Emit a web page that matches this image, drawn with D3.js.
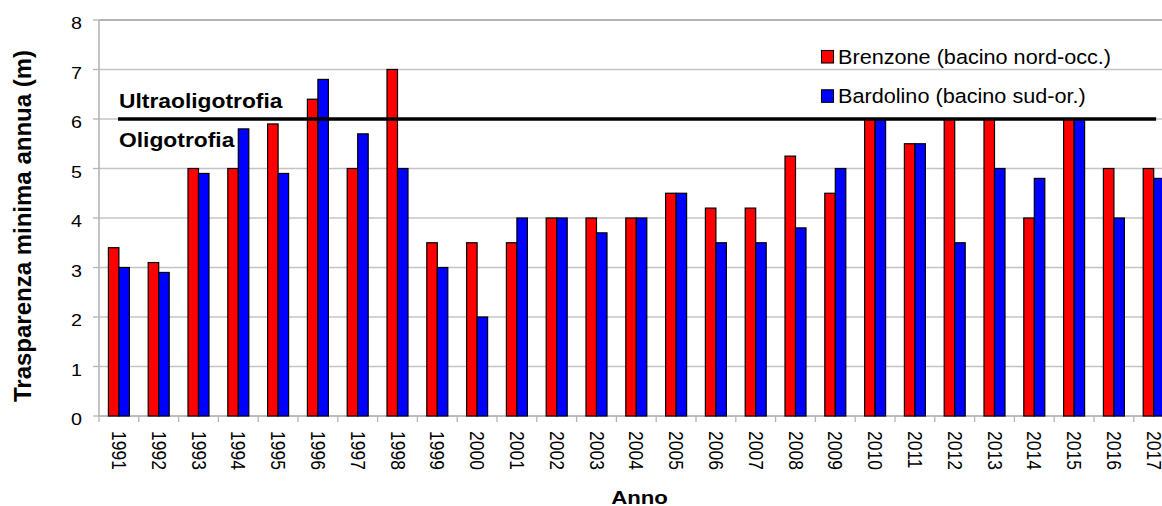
<!DOCTYPE html>
<html>
<head>
<meta charset="utf-8">
<script src="https://cdn.jsdelivr.net/npm/d3@7"></script>
<style>
  body { margin: 0; background: #fff; }
  text { font-family: Arial, "Liberation Sans", sans-serif; fill: #000; }
</style>
</head>
<body>
<svg id="canvas" width="1162" height="506"></svg>
<script>
// data
var years = ['1991','1992','1993','1994','1995','1996','1997','1998','1999','2000','2001','2002','2003','2004',
             '2005','2006','2007','2008','2009','2010','2011','2012','2013','2014','2015','2016','2017'];
var brenzone  = [3.4, 3.1, 5.0, 5.0, 5.9, 6.4, 5.0, 7.0, 3.5, 3.5, 3.5, 4.0, 4.0, 4.0,
                 4.5, 4.2, 4.2, 5.25, 4.5, 6.0, 5.5, 6.0, 6.0, 4.0, 6.0, 5.0, 5.0];
var bardolino = [3.0, 2.9, 4.9, 5.8, 4.9, 6.8, 5.7, 5.0, 3.0, 2.0, 4.0, 4.0, 3.7, 4.0,
                 4.5, 3.5, 3.5, 3.8, 5.0, 6.0, 5.5, 3.5, 5.0, 4.8, 6.0, 4.0, 4.8];
var seriesNames = ['Brenzone (bacino nord-occ.)', 'Bardolino (bacino sud-or.)'];
var seriesColors = ['#ff0000', '#0000ff'];
var yTicks = [0, 1, 2, 3, 4, 5, 6, 7, 8];
var threshold = 6;
var thresholdLabels = ['Ultraoligotrofia', 'Oligotrofia'];

var svg = d3.select('#canvas');

// ---------------------------------------------------------------- //
// Scales

var plotLeft = 99, plotTop = 20, plotBottom = 416;
var x = d3.scaleBand().domain(years).range([plotLeft, plotLeft + 27 * 39.8]);
var xs = d3.scaleBand().domain([0, 1]).range([0, x.bandwidth()]).paddingOuter(0.895);
var y = d3.scaleLinear().domain([0, 8]).range([plotBottom, plotTop]);

var rows = years.map(function(d, i){ return { year: d, vals: [brenzone[i], bardolino[i]] }; });

// horizontal text, slightly stretched like the original
function stretchedText(g, tx, ty, sx, str){
  return g.append('text').attr('transform', 'translate(' + tx + ',' + ty + ') scale(' + sx + ',1)').text(str);
}

// ---------------------------------------------------------------- //
// Grid and axes

svg.append('g').selectAll('line').data(yTicks).join('line')
  .attr('x1', plotLeft).attr('x2', 1162)
  .attr('y1', d => y(d)).attr('y2', d => y(d))
  .attr('stroke', d => d === 8 ? '#9a9a9a' : '#c4c4c4').attr('stroke-width', 1.3);

var yAxis = svg.append('g');
yAxis.append('line').attr('x1', plotLeft).attr('x2', plotLeft).attr('y1', y(8)).attr('y2', y(0))
  .attr('stroke', '#b4b4b4').attr('stroke-width', 1.6);
yAxis.selectAll('line.tk').data(yTicks).join('line').attr('class', 'tk')
  .attr('x1', plotLeft - 6).attr('x2', plotLeft).attr('y1', d => y(d)).attr('y2', d => y(d))
  .attr('stroke', '#b4b4b4').attr('stroke-width', 1.3);
yTicks.forEach(function(d){
  stretchedText(yAxis, 82, y(d) + 9.3, 1.16, d).attr('text-anchor', 'end').style('font-size', '17px');
});

var xAxis = svg.append('g');
xAxis.append('line').attr('x1', plotLeft).attr('x2', 1162).attr('y1', plotBottom).attr('y2', plotBottom)
  .attr('stroke', '#b4b4b4').attr('stroke-width', 1.6);
xAxis.selectAll('line.tk').data(years.concat(['end'])).join('line').attr('class', 'tk')
  .attr('x1', (d, i) => plotLeft + i * x.step()).attr('x2', (d, i) => plotLeft + i * x.step())
  .attr('y1', plotBottom).attr('y2', plotBottom + 6)
  .attr('stroke', '#b4b4b4').attr('stroke-width', 1.3);
xAxis.selectAll('text').data(years).join('text')
  .attr('transform', d => 'translate(' + (x(d) + x.bandwidth() / 2) + ',431) rotate(90) scale(1,1.12)')
  .attr('dy', '0.35em')
  .style('font-size', '17.5px')
  .text(d => d);

// ---------------------------------------------------------------- //
// Bars

var groups = svg.append('g').selectAll('g').data(rows).join('g')
  .attr('transform', d => 'translate(' + x(d.year) + ',0)');
groups.selectAll('rect').data(d => d.vals).join('rect')
  .attr('x', (d, i) => xs(i)).attr('width', xs.bandwidth())
  .attr('y', d => y(d)).attr('height', d => y(0) - y(d))
  .attr('fill', (d, i) => seriesColors[i])
  .attr('stroke', '#000').attr('stroke-width', 1.2);

// ---------------------------------------------------------------- //
// Threshold line and labels

svg.append('line')
  .attr('x1', x.range()[0] + 19).attr('x2', x.range()[1] - 17.5)
  .attr('y1', y(threshold)).attr('y2', y(threshold))
  .attr('stroke', '#000').attr('stroke-width', 3.6);
stretchedText(svg, 119, y(threshold) - 11, 1.17, thresholdLabels[0])
  .style('font-size', '19.5px').style('font-weight', 'bold');
stretchedText(svg, 119, y(threshold) + 28, 1.17, thresholdLabels[1])
  .style('font-size', '19.5px').style('font-weight', 'bold');

// ---------------------------------------------------------------- //
// Legend

var legend = svg.append('g').attr('transform', 'translate(821,50)');
seriesNames.forEach(function(name, i){
  legend.append('rect').attr('x', 0.5).attr('y', i * 39.3 + 0.5).attr('width', 12).attr('height', 12.5)
    .attr('fill', seriesColors[i]).attr('stroke', '#000').attr('stroke-width', 1.1);
  stretchedText(legend, 17, i * 39.3 + 14, 1.11, name).style('font-size', '19.5px');
});

// ---------------------------------------------------------------- //
// Axis titles

svg.append('text')
  .attr('transform', 'translate(30.5,226) rotate(-90)')
  .attr('text-anchor', 'middle')
  .style('font-size', '24px').style('font-weight', 'bold')
  .text('Trasparenza minima annua (m)');
stretchedText(svg, 639.5, 504, 1.17, 'Anno')
  .attr('text-anchor', 'middle').style('font-size', '19px').style('font-weight', 'bold');
</script>
</body>
</html>
